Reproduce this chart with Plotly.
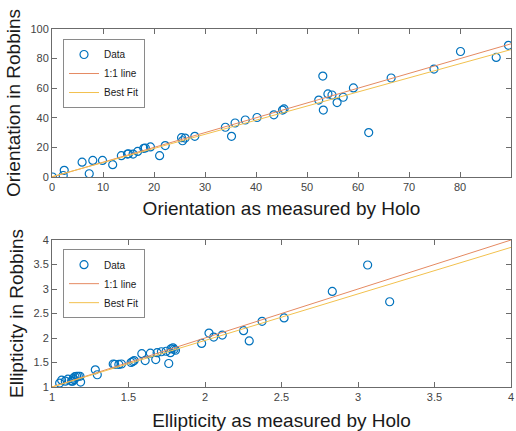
import plotly.graph_objects as go

# ---- Orientation data (top panel) ----
orient_holo = [0.1, 2.2, 2.4, 5.9, 7.3, 8.0, 9.9, 11.9, 13.6, 14.8, 15.0, 15.9, 16.8,
               18.0, 18.3, 19.3, 21.1, 22.2, 25.4, 25.6, 26.1, 28.0, 34.0, 35.2, 35.9,
               37.9, 40.2, 43.5, 45.2, 45.5, 52.3, 53.1, 53.2, 54.1, 54.9, 55.9, 57.1,
               59.1, 62.1, 66.5, 74.9, 80.1, 87.1, 89.5]
orient_robbins = [0.0, 1.0, 4.5, 10.0, 2.2, 11.2, 11.2, 8.3, 14.4, 15.5, 15.7, 15.5, 17.3,
                  19.4, 19.6, 20.3, 14.4, 21.2, 26.6, 24.5, 26.3, 27.5, 33.6, 27.5, 36.5,
                  38.5, 40.2, 42.0, 45.2, 46.0, 52.0, 68.2, 45.2, 56.1, 55.4, 50.3, 53.9,
                  60.2, 30.0, 66.9, 72.9, 84.8, 80.8, 89.0]
orient_line_x = [0, 90]
orient_unity_y = [0, 90]
orient_fit_y = [0.2, 86.1]

# ---- Ellipticity data (bottom panel) ----
ell_holo = [1.05, 1.063, 1.087, 1.104, 1.128, 1.139, 1.15, 1.161, 1.172, 1.183, 1.187,
            1.145, 1.135, 1.283, 1.296, 1.40, 1.41, 1.437, 1.454, 1.517, 1.528, 1.537,
            1.587, 1.609, 1.643, 1.678, 1.687, 1.715, 1.746, 1.763, 1.774, 1.778, 1.791,
            1.798, 1.807, 1.978, 2.026, 2.057, 2.113, 2.252, 2.289, 2.373, 2.517, 2.832,
            3.063, 3.207]
ell_robbins = [1.08, 1.14, 1.12, 1.16, 1.12, 1.18, 1.21, 1.22, 1.22, 1.22, 1.10,
               1.15, 1.12, 1.35, 1.25, 1.47, 1.46, 1.46, 1.47, 1.50, 1.52, 1.54,
               1.68, 1.54, 1.69, 1.56, 1.70, 1.72, 1.73, 1.48, 1.70, 1.78, 1.80,
               1.77, 1.75, 1.89, 2.10, 2.02, 2.06, 2.15, 1.94, 2.34, 2.41, 2.95,
               3.49, 2.74]
ell_line_x = [1, 4]
ell_unity_y = [1, 4]
ell_fit_y = [1.0, 3.85]

BLUE = "#0072BD"
ORANGE = "#E58A62"
YELLOW = "#F2C14E"
FONT = "Liberation Sans, Arial, Helvetica, sans-serif"

fig = go.Figure()

marker = dict(symbol="circle-open", size=8, color=BLUE, line=dict(width=1.2, color=BLUE))

# top panel
fig.add_trace(go.Scatter(x=orient_holo, y=orient_robbins, mode="markers", name="Data",
                         marker=marker, xaxis="x", yaxis="y", legend="legend"))
fig.add_trace(go.Scatter(x=orient_line_x, y=orient_unity_y, mode="lines", name="1:1 line",
                         line=dict(color=ORANGE, width=1), xaxis="x", yaxis="y", legend="legend"))
fig.add_trace(go.Scatter(x=orient_line_x, y=orient_fit_y, mode="lines", name="Best Fit",
                         line=dict(color=YELLOW, width=1), xaxis="x", yaxis="y", legend="legend"))
# bottom panel
fig.add_trace(go.Scatter(x=ell_holo, y=ell_robbins, mode="markers", name="Data",
                         marker=marker, xaxis="x2", yaxis="y2", legend="legend2"))
fig.add_trace(go.Scatter(x=ell_line_x, y=ell_unity_y, mode="lines", name="1:1 line",
                         line=dict(color=ORANGE, width=1), xaxis="x2", yaxis="y2", legend="legend2"))
fig.add_trace(go.Scatter(x=ell_line_x, y=ell_fit_y, mode="lines", name="Best Fit",
                         line=dict(color=YELLOW, width=1), xaxis="x2", yaxis="y2", legend="legend2"))

axis_common = dict(showgrid=False, zeroline=False, showline=True, linecolor="#6b6b6b",
                   linewidth=1, mirror="ticks", ticks="inside", ticklen=5, automargin=False,
                   tickcolor="#6b6b6b", tickfont=dict(size=11, color="#444444", family=FONT),
                   title_font=dict(size=19, color="#1a1a1a", family=FONT))

legend_common = dict(bgcolor="white", bordercolor="#8a8a8a", borderwidth=1,
                     font=dict(size=10, color="#1a1a1a", family=FONT),
                     xanchor="left", yanchor="top", tracegroupgap=0, itemwidth=30)

fig.update_layout(
    width=516, height=431,
    margin=dict(l=52, r=5, t=29, b=44),
    paper_bgcolor="white", plot_bgcolor="white",
    font=dict(family=FONT),
    xaxis=dict(axis_common, domain=[0, 1], anchor="y", range=[0, 90], dtick=10,
               title=dict(text="Orientation as measured by Holo", standoff=9)),
    yaxis=dict(axis_common, domain=[0.5866, 1.0], anchor="x", range=[0, 100], dtick=20,
               title=dict(text="Orientation in Robbins", standoff=4)),
    xaxis2=dict(axis_common, domain=[0, 1], anchor="y2", range=[1, 4], dtick=0.5,
                title=dict(text="Ellipticity as measured by Holo", standoff=11)),
    yaxis2=dict(axis_common, domain=[0, 0.4106], anchor="x2", range=[1, 4], dtick=0.5,
                title=dict(text="Ellipticity in Robbins", standoff=4)),
    legend=dict(legend_common, x=0.024, y=0.972),
    legend2=dict(legend_common, x=0.024, y=0.385),
    showlegend=True,
)

fig.write_html("out.html")
